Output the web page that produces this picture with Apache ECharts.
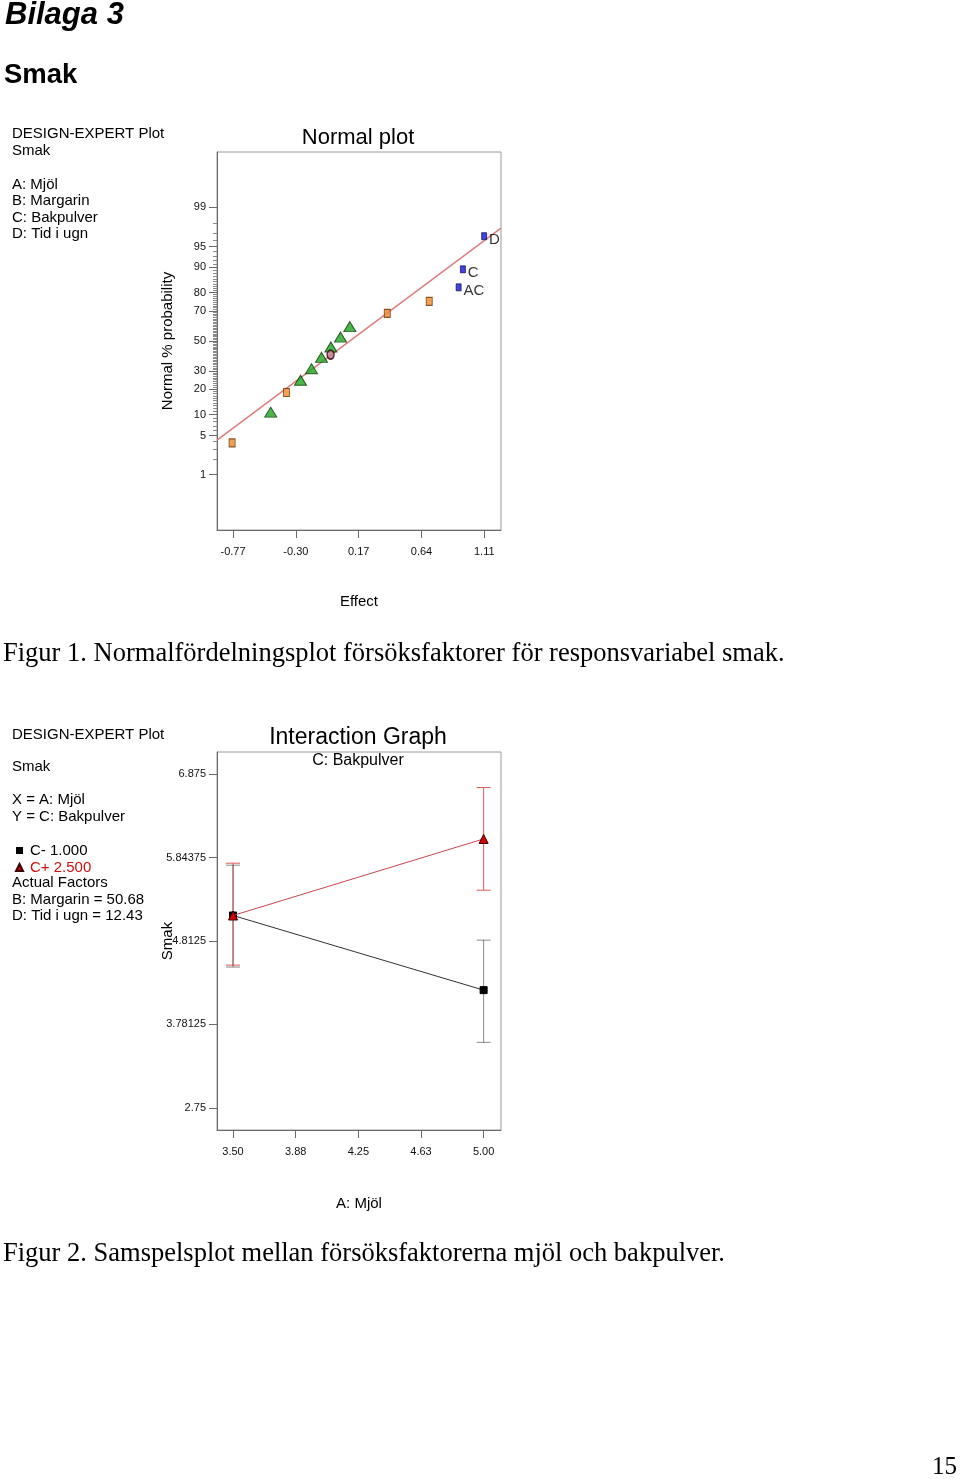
<!DOCTYPE html>
<html>
<head>
<meta charset="utf-8">
<script src="https://cdn.jsdelivr.net/npm/echarts@6/dist/echarts.min.js"></script>
<style>
html,body{margin:0;padding:0;background:#fff;}
#c{width:960px;height:1479px;}
</style>
</head>
<body>
<div id="c"></div>
<script>
// ---------- Figure 1: normal probability plot ----------
const normTicksEffect = [-0.77, -0.30, 0.17, 0.64, 1.11];
const normTickLabelsEffect = ['-0.77', '-0.30', '0.17', '0.64', '1.11'];
const normProbMajor = [1, 5, 10, 20, 30, 50, 70, 80, 90, 95, 99];
const normProbMajorLabels = ['1', '5', '10', '20', '30', '50', '70', '80', '90', '95', '99'];
const normProbMinor = [2,3,4,6,7,8,9,11,12,13,14,15,16,17,18,19,21,22,23,24,25,26,27,28,29,31,32,33,34,35,36,37,38,39,40,41,42,43,44,45,46,47,48,49,51,52,53,54,55,56,57,58,59,60,61,62,63,64,65,66,67,68,69,71,72,73,74,75,76,77,78,79,81,82,83,84,85,86,87,88,89,91,92,93,94,96,97,98];
const effectRange = [-0.89, 1.235];
const probRange = [0.05, 99.95];

const orangeEffect = [-0.777, -0.370, 0.384, 0.698];
const orangeProb   = [3.81, 18.5, 68.5, 75.5];
const greenEffect  = [-0.488, -0.265, -0.183, -0.108, -0.038, 0.034, 0.104];
const greenProb    = [10.77, 24.7, 31.5, 38.8, 45.8, 52.7, 59.9];
const circleEffect = [-0.040];
const circleProb   = [40.6];
const blueEffect   = [0.918, 0.950, 1.109];
const blueProb     = [82.5, 89.4, 96.6];
const blueLabels   = ['AC', 'C', 'D'];
const fitEffect    = [-0.89, 1.235];
const fitProb      = [4.21, 97.54];

// ---------- Figure 2: interaction graph ----------
const mjolTicks = [3.5, 3.875, 4.25, 4.625, 5.0];
const mjolTickLabels = ['3.50', '3.88', '4.25', '4.63', '5.00'];
const smakTicks = [2.75, 3.78125, 4.8125, 5.84375, 6.875];
const smakTickLabels = ['2.75', '3.78125', '4.8125', '5.84375', '6.875'];
const mjolRange = [3.404, 5.104];
const smakRange = [2.475, 7.15];

const mjolLevels = [3.5, 5.0];
const cMinusSmak = [5.128, 4.205];
const cMinusLow  = [4.49, 3.559];
const cMinusHigh = [5.75, 4.823];
const cPlusSmak  = [5.128, 6.075];
const cPlusLow   = [4.514, 5.441];
const cPlusHigh  = [5.775, 6.711];

// inverse standard normal CDF (probability-scale axis transform)
function probit(p) {
  const a=[-3.969683028665376e+01,2.209460984245205e+02,-2.759285104469687e+02,1.383577518672690e+02,-3.066479806614716e+01,2.506628277459239e+00];
  const b=[-5.447609879822406e+01,1.615858368580409e+02,-1.556989798598866e+02,6.680131188771972e+01,-1.328068155288572e+01];
  const c=[-7.784894002430293e-03,-3.223964580411365e-01,-2.400758277161838e+00,-2.549732539343734e+00,4.374664141464968e+00,2.938163982698783e+00];
  const d=[7.784695709041462e-03,3.224671290700398e-01,2.445134137142996e+00,3.754408661907416e+00];
  const pl=0.02425, ph=1-pl; let q,r;
  if (p < pl) { q=Math.sqrt(-2*Math.log(p)); return (((((c[0]*q+c[1])*q+c[2])*q+c[3])*q+c[4])*q+c[5])/((((d[0]*q+d[1])*q+d[2])*q+d[3])*q+1); }
  if (p <= ph) { q=p-0.5; r=q*q; return (((((a[0]*r+a[1])*r+a[2])*r+a[3])*r+a[4])*r+a[5])*q/(((((b[0]*r+b[1])*r+b[2])*r+b[3])*r+b[4])*r+1); }
  q=Math.sqrt(-2*Math.log(1-p)); return -(((((c[0]*q+c[1])*q+c[2])*q+c[3])*q+c[4])*q+c[5])/((((d[0]*q+d[1])*q+d[2])*q+d[3])*q+1);
}
const pz = pct => probit(pct / 100);
const zip = (xs, ys) => xs.map((x, i) => [x, pz(ys[i])]);
const zip2 = (xs, ys) => xs.map((x, i) => [x, ys[i]]);
function lookup(vals, labels) {
  return v => { const i = vals.findIndex(t => Math.abs(t - v) < 1e-7); return i < 0 ? '' : labels[i]; };
}

const SANS = '"Liberation Sans", Arial, sans-serif';
const SERIF = '"Liberation Serif", "Times New Roman", serif';
const majorZ = normProbMajor.map(pz);
const minorZ = normProbMinor.map(pz);
const axisCol = '#6a6a6a';

function txt(x, y, text, size, opts) {
  opts = opts || {};
  return { type: 'text', x: x, y: y, silent: true, style: {
    text: text, fill: opts.color || '#000',
    font: (opts.weight || '') + ' ' + size + 'px ' + (opts.family || SANS),
    align: opts.align || 'left', verticalAlign: 'middle' } };
}

const graphics = [
  txt(5, 15, 'Bilaga 3', 31, { weight: 'italic bold' }),
  txt(4, 75, 'Smak', 27.5, { weight: 'bold' }),
  txt(12, 134, 'DESIGN-EXPERT Plot', 15),
  txt(12, 151, 'Smak', 15),
  txt(12, 185, 'A: Mjöl', 15),
  txt(12, 201, 'B: Margarin', 15),
  txt(12, 218, 'C: Bakpulver', 15),
  txt(12, 234, 'D: Tid i ugn', 15),
  txt(358, 138, 'Normal plot', 22, { align: 'center' }),
  txt(3, 654, 'Figur 1. Normalfördelningsplot försöksfaktorer för responsvariabel smak.', 26.5, { family: SERIF }),
  txt(12, 735, 'DESIGN-EXPERT Plot', 15),
  txt(12, 767, 'Smak', 15),
  txt(12, 800, 'X = A: Mjöl', 15),
  txt(12, 817, 'Y = C: Bakpulver', 15),
  txt(12, 883, 'Actual Factors', 15),
  txt(12, 900, 'B: Margarin = 50.68', 15),
  txt(12, 916, 'D: Tid i ugn = 12.43', 15),
  txt(358, 738, 'Interaction Graph', 23, { align: 'center' }),
  txt(358, 761, 'C: Bakpulver', 16, { align: 'center' }),
  txt(3, 1254, 'Figur 2. Samspelsplot mellan försöksfaktorerna mjöl och bakpulver.', 26.5, { family: SERIF }),
  txt(957, 1467, '15', 25, { family: SERIF, align: 'right' })
];

function errRender(color) {
  return function (params, api) {
    const x = api.value(0);
    const top = api.coord([x, api.value(2)]);
    const bot = api.coord([x, api.value(1)]);
    const w = 7;
    const st = { stroke: color, lineWidth: 1 };
    return { type: 'group', children: [
      { type: 'line', shape: { x1: top[0], y1: top[1], x2: bot[0], y2: bot[1] }, style: st },
      { type: 'line', shape: { x1: top[0]-w, y1: top[1], x2: top[0]+w, y2: top[1] }, style: st },
      { type: 'line', shape: { x1: bot[0]-w, y1: bot[1], x2: bot[0]+w, y2: bot[1] }, style: st }
    ] };
  };
}

const labelStyle = { fontSize: 11, color: '#111', fontFamily: SANS };
const nameStyle = { fontSize: 15, color: '#000', fontFamily: SANS };

const option = {
  animation: false,
  backgroundColor: '#fff',
  graphic: graphics,
  legend: {
    data: [
      { name: 'C- 1.000', icon: 'rect', textStyle: { color: '#000' } },
      { name: 'C+ 2.500', icon: 'triangle', textStyle: { color: '#cc1010' } }
    ],
    orient: 'vertical', left: 15, top: 842, padding: 0, itemWidth: 7, itemHeight: 7, itemGap: 0,
    selectedMode: false,
    textStyle: { fontSize: 15, fontFamily: SANS, lineHeight: 17, padding: [0, 0, 0, 2] }
  },
  grid: [
    { left: 217, top: 152, width: 284, height: 378, show: true, borderColor: '#9a9a9a', borderWidth: 1 },
    { left: 217, top: 752, width: 284, height: 378, show: true, borderColor: '#9a9a9a', borderWidth: 1 }
  ],
  xAxis: [
    { gridIndex: 0, type: 'value', min: effectRange[0], max: effectRange[1],
      name: 'Effect', nameLocation: 'middle', nameGap: 64, nameTextStyle: nameStyle, nameMoveOverlap: false,
      axisLine: { show: true, onZero: false, lineStyle: { color: axisCol } },
      axisTick: { show: true, customValues: normTicksEffect, length: 8, lineStyle: { color: axisCol } },
      axisLabel: { customValues: normTicksEffect, formatter: lookup(normTicksEffect, normTickLabelsEffect), margin: 16, ...labelStyle },
      splitLine: { show: false } },
    { gridIndex: 1, type: 'value', min: mjolRange[0], max: mjolRange[1],
      name: 'A: Mjöl', nameLocation: 'middle', nameGap: 66, nameTextStyle: nameStyle, nameMoveOverlap: false,
      axisLine: { show: true, onZero: false, lineStyle: { color: axisCol } },
      axisTick: { show: true, customValues: mjolTicks, length: 8, lineStyle: { color: axisCol } },
      axisLabel: { customValues: mjolTicks, formatter: lookup(mjolTicks, mjolTickLabels), margin: 16, ...labelStyle },
      splitLine: { show: false } }
  ],
  yAxis: [
    { gridIndex: 0, type: 'value', position: 'left', min: pz(probRange[0]), max: pz(probRange[1]),
      name: 'Normal % probability', nameLocation: 'middle', nameGap: 42, nameTextStyle: nameStyle, nameMoveOverlap: false,
      axisLine: { show: true, onZero: false, lineStyle: { color: axisCol } },
      axisTick: { show: true, customValues: majorZ, length: 8, lineStyle: { color: axisCol } },
      axisLabel: { customValues: majorZ, formatter: lookup(majorZ, normProbMajorLabels), margin: 11, ...labelStyle },
      splitLine: { show: false } },
    { gridIndex: 0, type: 'value', position: 'left', min: pz(probRange[0]), max: pz(probRange[1]),
      axisLine: { show: false, onZero: false },
      axisTick: { show: true, customValues: minorZ, length: 4, lineStyle: { color: '#8a8a8a' } },
      axisLabel: { show: false }, splitLine: { show: false } },
    { gridIndex: 1, type: 'value', position: 'left', min: smakRange[0], max: smakRange[1],
      name: 'Smak', nameLocation: 'middle', nameGap: 42, nameTextStyle: nameStyle, nameMoveOverlap: false,
      axisLine: { show: true, onZero: false, lineStyle: { color: axisCol } },
      axisTick: { show: true, customValues: smakTicks, length: 8, lineStyle: { color: axisCol } },
      axisLabel: { customValues: smakTicks, formatter: lookup(smakTicks, smakTickLabels), margin: 11, ...labelStyle },
      splitLine: { show: false } }
  ],
  series: [
    { name: 'fit', type: 'line', xAxisIndex: 0, yAxisIndex: 0, data: zip(fitEffect, fitProb),
      symbol: 'none', silent: true, lineStyle: { color: '#e07c7c', width: 1.5 }, z: 1 },
    { name: 'orange', type: 'scatter', xAxisIndex: 0, yAxisIndex: 0, data: zip(orangeEffect, orangeProb),
      symbol: 'rect', symbolSize: [6, 8], itemStyle: { color: '#ee8a2c', borderColor: '#6b3200', borderWidth: 1 }, z: 3 },
    { name: 'green', type: 'scatter', xAxisIndex: 0, yAxisIndex: 0, data: zip(greenEffect, greenProb),
      symbol: 'triangle', symbolSize: [12, 10], itemStyle: { color: '#1ea51e', borderColor: '#0a3a0a', borderWidth: 1 }, z: 3 },
    { name: 'circle', type: 'scatter', xAxisIndex: 0, yAxisIndex: 0, data: zip(circleEffect, circleProb),
      symbol: 'circle', symbolSize: [7, 9], itemStyle: { color: '#c07a8c', borderColor: '#2a0010', borderWidth: 1.5 }, z: 4 },
    { name: 'blue', type: 'scatter', xAxisIndex: 0, yAxisIndex: 0, data: zip(blueEffect, blueProb),
      symbol: 'rect', symbolSize: [5, 7], itemStyle: { color: '#1414d8', borderColor: '#00004a', borderWidth: 0.8 }, z: 3,
      label: { show: true, position: 'right', distance: 2, offset: [0, 4], fontSize: 15, fontFamily: SANS, color: '#000',
        formatter: p => blueLabels[p.dataIndex] } },
    { name: 'errPlus', type: 'custom', xAxisIndex: 1, yAxisIndex: 2, renderItem: errRender('#e05a5a'),
      data: mjolLevels.map((x, i) => [x, cPlusLow[i], cPlusHigh[i]]), encode: { x: 0, y: [1, 2] }, z: 1, silent: true },
    { name: 'errMinus', type: 'custom', xAxisIndex: 1, yAxisIndex: 2, renderItem: errRender('rgba(60,60,60,0.6)'),
      data: mjolLevels.map((x, i) => [x, cMinusLow[i], cMinusHigh[i]]), encode: { x: 0, y: [1, 2] }, z: 2, silent: true },
    { name: 'C- 1.000', type: 'line', xAxisIndex: 1, yAxisIndex: 2, data: zip2(mjolLevels, cMinusSmak),
      symbol: 'rect', symbolSize: 7, lineStyle: { color: '#333', width: 1 },
      itemStyle: { color: '#000', borderColor: '#000' }, z: 3 },
    { name: 'C+ 2.500', type: 'line', xAxisIndex: 1, yAxisIndex: 2, data: zip2(mjolLevels, cPlusSmak),
      symbol: 'triangle', symbolSize: [9, 9], lineStyle: { color: '#c8464e', width: 1 },
      itemStyle: { color: '#d40000', borderColor: '#3a0000', borderWidth: 1 }, z: 4 }
  ]
};

const chart = echarts.init(document.getElementById('c'), null, { renderer: 'canvas' });
chart.setOption(option);
</script>
</body>
</html>
